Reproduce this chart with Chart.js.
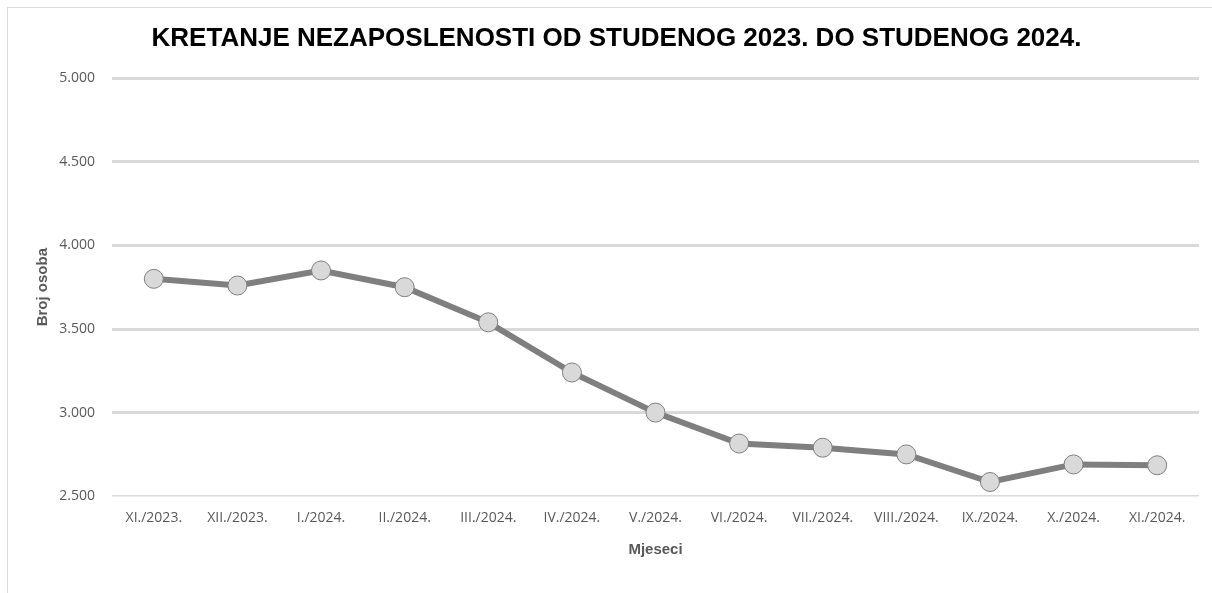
<!DOCTYPE html>
<html lang="hr">
<head>
    <meta charset="UTF-8">
    <title>Kretanje nezaposlenosti</title>
    <script src="https://cdn.jsdelivr.net/npm/chart.js"></script>
    <style>
        body { margin: 0; background: #fff; }
        #okvir { position: absolute; left: 0; top: 0; width: 1212px; height: 593px; }
        #rub { position: absolute; left: 7px; top: 7px; width: 1220px; height: 600px;
               border-left: 1px solid #d9d9d9; border-top: 1px solid #d9d9d9; }
    </style>
</head>
<body>
    <div id="okvir">
        <div id="rub"></div>
        <canvas id="grafNezaposlenost"></canvas>
    </div>

<script>
    // Mjeseci (kategorije)
    const mjeseci = ['XI./2023.', 'XII./2023.', 'I./2024.', 'II./2024.', 'III./2024.', 'IV./2024.',
        'V./2024.', 'VI./2024.', 'VII./2024.', 'VIII./2024.', 'IX./2024.', 'X./2024.', 'XI./2024.'];

    // Broj nezaposlenih osoba
    const brojOsoba = [3800, 3760, 3850, 3750, 3540, 3240, 3000, 2815, 2790, 2750, 2585, 2690, 2685];

    // Raspon osi Y
    const osY = [2500, 5000, 500];

    const sivaTekst = '#595959';

    const graf = new Chart(document.getElementById('grafNezaposlenost'), {
        type: 'line',
        data: {
            labels: mjeseci,
            datasets: [{
                label: 'Broj osoba',
                data: brojOsoba,
                borderColor: '#7f7f7f',
                borderWidth: 6,
                backgroundColor: '#d9d9d9',
                pointBackgroundColor: '#d9d9d9',
                pointBorderColor: '#7f7f7f',
                pointBorderWidth: 1,
                pointRadius: 9.5,
                tension: 0
            }]
        },
        options: {
            responsive: true,
            maintainAspectRatio: false,
            animation: false,
            layout: {
                padding: { left: 34, right: 13, top: 8, bottom: 34 }
            },
            plugins: {
                legend: { display: false },
                tooltip: { enabled: false },
                title: {
                    display: true,
                    text: 'KRETANJE NEZAPOSLENOSTI OD STUDENOG 2023. DO STUDENOG 2024.',
                    color: '#000',
                    font: { family: 'Liberation Sans', size: 26, weight: 'bold' },
                    padding: { top: 15, bottom: 24 }
                }
            },
            scales: {
                x: {
                    offset: true,
                    grid: { display: false },
                    border: { display: false },
                    ticks: {
                        color: sivaTekst,
                        font: { family: 'Open Sans', size: 14 },
                        padding: 5,
                        maxRotation: 0,
                        autoSkip: false
                    },
                    title: {
                        display: true,
                        text: 'Mjeseci',
                        color: sivaTekst,
                        font: { family: 'Liberation Sans', size: 15, weight: 'bold' },
                        padding: { top: 10, bottom: 0 }
                    }
                },
                y: {
                    min: osY[0],
                    max: osY[1],
                    afterFit: (scale) => { scale.width = 78; },
                    grid: {
                        color: '#d9d9d9',
                        lineWidth: (ctx) => (ctx.tick && ctx.tick.value === osY[0]) ? 1.5 : 3,
                        drawTicks: false
                    },
                    border: { display: false },
                    ticks: {
                        stepSize: osY[2],
                        color: sivaTekst,
                        font: { family: 'Open Sans', size: 14 },
                        padding: 17,
                        callback: (v) => v.toLocaleString('de-DE', { minimumFractionDigits: 0 })
                    },
                    title: {
                        display: true,
                        text: 'Broj osoba',
                        color: sivaTekst,
                        font: { family: 'Liberation Sans', size: 15, weight: 'bold' },
                        padding: { top: 0, bottom: 6 }
                    }
                }
            }
        }
    });
</script>
</body>
</html>
